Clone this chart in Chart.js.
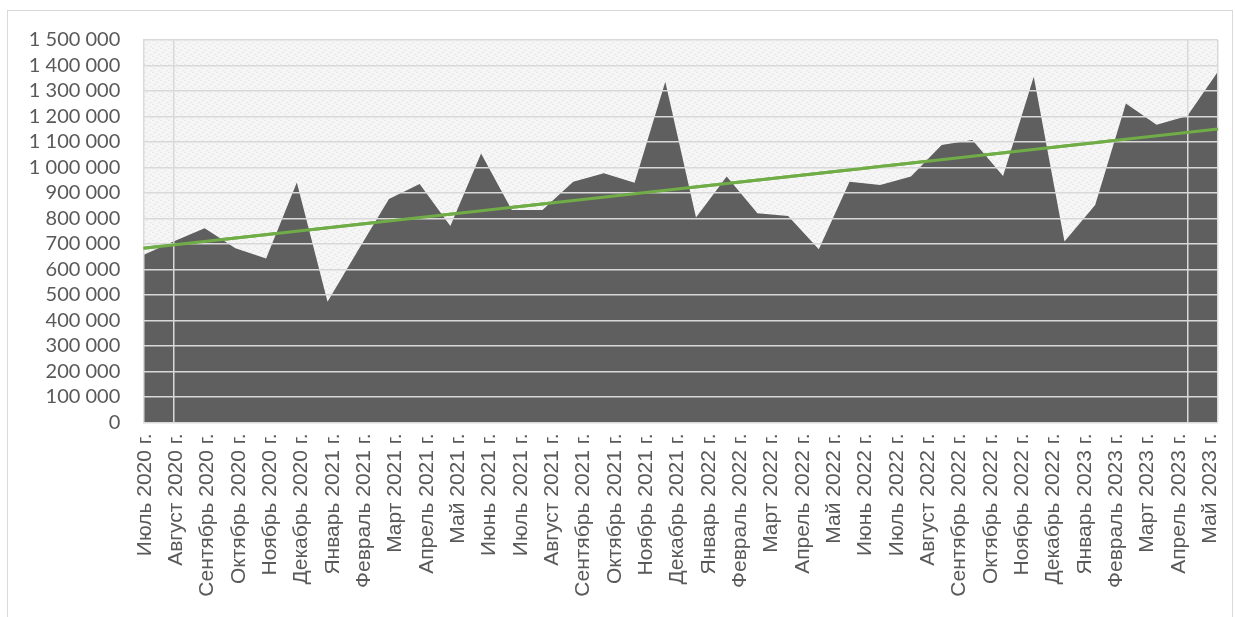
<!DOCTYPE html>
<html>
<head>
<meta charset="utf-8">
<script src="https://cdn.jsdelivr.net/npm/chart.js@4.4.1/dist/chart.umd.min.js"></script>
<style>
  html, body { margin: 0; padding: 0; background: #fff; }
  #frame { position: absolute; left: 7px; top: 10px; width: 1224px; height: 640px; border: 1px solid #d9d9d9; }
  #wrap { position: absolute; left: 0; top: 0; width: 1235px; height: 617px; }
</style>
</head>
<body>
<div id="frame"></div>
<div id="wrap"><canvas id="myChart"></canvas></div>
<script>
// month labels under the axis
const months = [
    'Июль 2020 г.', 'Август 2020 г.', 'Сентябрь 2020 г.', 'Октябрь 2020 г.', 'Ноябрь 2020 г.', 'Декабрь 2020 г.',
    'Январь 2021 г.', 'Февраль 2021 г.', 'Март 2021 г.', 'Апрель 2021 г.', 'Май 2021 г.', 'Июнь 2021 г.',
    'Июль 2021 г.', 'Август 2021 г.', 'Сентябрь 2021 г.', 'Октябрь 2021 г.', 'Ноябрь 2021 г.', 'Декабрь 2021 г.',
    'Январь 2022 г.', 'Февраль 2022 г.', 'Март 2022 г.', 'Апрель 2022 г.', 'Май 2022 г.', 'Июнь 2022 г.',
    'Июль 2022 г.', 'Август 2022 г.', 'Сентябрь 2022 г.', 'Октябрь 2022 г.', 'Ноябрь 2022 г.', 'Декабрь 2022 г.',
    'Январь 2023 г.', 'Февраль 2023 г.', 'Март 2023 г.', 'Апрель 2023 г.', 'Май 2023 г.'
];

// area series
const values = [
    656000, 710000, 761000, 683000, 643000, 941000, 473000, 676000, 876000, 935000,
    770000, 1055000, 833000, 833000, 944000, 977000, 940000, 1336000, 804000, 964000,
    820000, 809000, 679000, 944000, 931000, 964000, 1088000, 1108000, 966000, 1356000,
    709000, 853000, 1251000, 1167000, 1202000, 1376000
];

// linear trend line, start and end values
const trendStart = 683000;
const trendEnd = 1151000;

// y axis ticks
const yTicks = [0, 100000, 200000, 300000, 400000, 500000, 600000, 700000,
    800000, 900000, 1000000, 1100000, 1200000, 1300000, 1400000, 1500000];

// data points where the vertical gridlines sit
const vLines = [0, 1, 34, 35];

const pointIdx = values.map((v, i) => i);

function fmt(v) {
    return String(v).replace(/\B(?=(\d{3})+(?!\d))/g, ' ');
}

function makePattern(ctx) {
    const c = document.createElement('canvas');
    c.width = 8; c.height = 8;
    const p = c.getContext('2d');
    p.fillStyle = '#f4f4f4';
    p.fillRect(0, 0, 8, 8);
    p.fillStyle = '#e9e9e9';
    p.fillRect(0, 0, 2, 1); p.fillRect(4, 2, 2, 1);
    p.fillRect(2, 4, 2, 1); p.fillRect(6, 6, 2, 1);
    p.fillStyle = '#fbfbfb';
    p.fillRect(1, 2, 2, 1); p.fillRect(5, 4, 2, 1);
    p.fillRect(3, 6, 2, 1); p.fillRect(7, 0, 1, 1);
    return ctx.createPattern(c, 'repeat');
}

const plotBg = {
    id: 'plotBg',
    beforeDatasetsDraw(chart) {
        const {ctx, chartArea: a} = chart;
        ctx.save();
        ctx.fillStyle = makePattern(ctx);
        ctx.fillRect(a.left, a.top, a.right - a.left, a.bottom - a.top);
        ctx.restore();
    },
    afterDraw(chart) {
        // trend line goes above the gridlines
        chart.getDatasetMeta(1).controller.draw();
    }
};

const ctx = document.getElementById('myChart').getContext('2d');

new Chart(ctx, {
    type: 'line',
    data: {
        datasets: [{
            data: values,
            xAxisID: 'xd',
            fill: 'origin',
            backgroundColor: '#5f5f5f',
            borderColor: 'rgba(0,0,0,0)',
            borderWidth: 0,
            pointRadius: 0,
            tension: 0
        }, {
            data: [{x: 0, y: trendStart}, {x: values.length - 1, y: trendEnd}],
            xAxisID: 'xd',
            fill: false,
            borderColor: '#70ad47',
            borderWidth: 3,
            pointRadius: 0,
            tension: 0
        }]
    },
    options: {
        responsive: true,
        maintainAspectRatio: false,
        animation: false,
        layout: { padding: { top: 40, right: 17, left: 0, bottom: 0 } },
        scales: {
            xd: {
                type: 'category',
                labels: pointIdx,
                position: 'bottom',
                offset: false,
                border: { display: false },
                ticks: { display: false },
                grid: {
                    z: 1,
                    drawTicks: false,
                    lineWidth: 1.5,
                    color: (c) => vLines.includes(c.index) ? '#d9d9d9' : 'rgba(0,0,0,0)'
                }
            },
            x: {
                type: 'linear',
                position: 'bottom',
                min: -0.054,
                max: 34.246,
                border: { display: false },
                grid: { display: false, drawTicks: false },
                afterBuildTicks: (s) => { s.ticks = months.map((m, i) => ({ value: i })); },
                afterFit: (s) => { s.height = 194.7; s.paddingLeft = 0; s.paddingRight = 0; },
                ticks: {
                    autoSkip: false,
                    maxRotation: 90,
                    minRotation: 90,
                    padding: 11,
                    color: '#595959',
                    font: { family: '"Liberation Sans", Arial, sans-serif', size: 21 },
                    callback: (v) => months[v]
                }
            },
            y: {
                min: 0,
                max: 1500000,
                afterBuildTicks: (s) => { s.ticks = yTicks.map(v => ({ value: v })); },
                afterFit: (s) => { s.width = 143.3; },
                border: { display: false },
                grid: { z: 1, drawTicks: false, color: '#d9d9d9', lineWidth: 1.5 },
                ticks: {
                    autoSkip: false,
                    padding: 23,
                    color: '#595959',
                    font: { family: 'Lato, sans-serif', size: 20 },
                    callback: (v) => fmt(v)
                }
            }
        },
        plugins: {
            legend: { display: false },
            tooltip: { enabled: false }
        }
    },
    plugins: [plotBg]
});
</script>
</body>
</html>
